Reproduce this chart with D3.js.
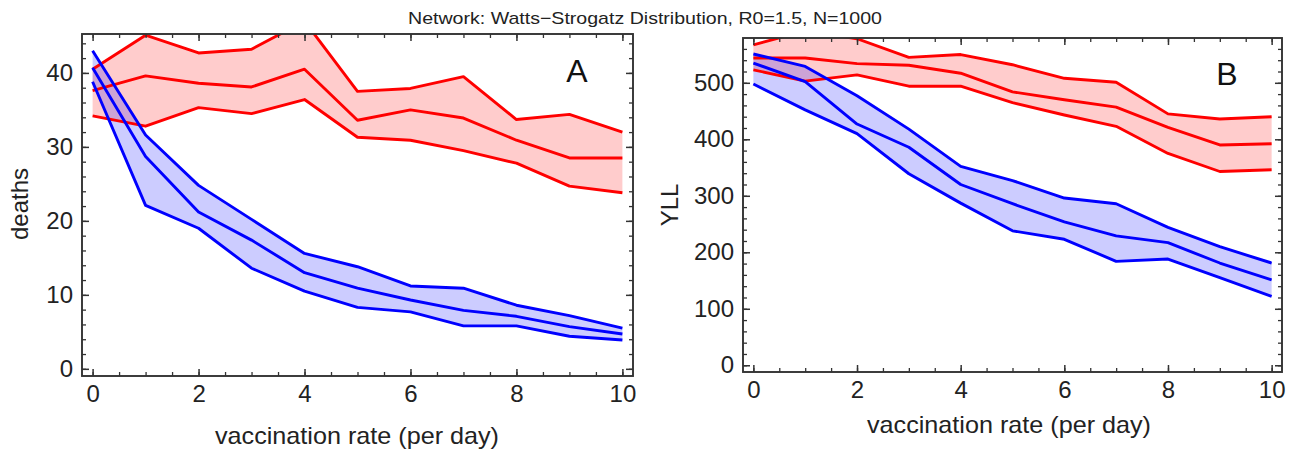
<!DOCTYPE html>
<html>
<head>
<meta charset="utf-8">
<script src="https://cdn.jsdelivr.net/npm/d3@7"></script>
<style>
  body { margin: 0; background: #fff; }
  svg { display: block; font-family: "Liberation Sans", Arial, sans-serif; }
  .tick text { fill: #222; }
</style>
</head>
<body>
<svg id="chart" width="1294" height="451"></svg>
<script>
// vaccination rate (per day)
const rates = [0, 1, 2, 3, 4, 5, 6, 7, 8, 9, 10];

// panel A: deaths
const deathsRedUpper  = [40.5, 45.1, 42.7, 43.2, 47.0, 37.5, 37.9, 39.5, 33.7, 34.4, 32.0];
const deathsRedMid    = [37.6, 39.6, 38.6, 38.1, 40.5, 33.6, 35.0, 33.9, 30.9, 28.5, 28.5];
const deathsRedLower  = [34.2, 32.8, 35.3, 34.5, 36.4, 31.3, 30.9, 29.5, 27.8, 24.7, 23.8];
const deathsBlueUpper = [43.0, 31.6, 24.8, 20.2, 15.6, 13.8, 11.2, 10.9, 8.6, 7.2, 5.5];
const deathsBlueMid   = [40.7, 28.7, 21.2, 17.4, 13.0, 10.9, 9.3, 7.9, 7.1, 5.7, 4.7];
const deathsBlueLower = [38.8, 22.1, 19.0, 13.6, 10.5, 8.3, 7.7, 5.8, 5.8, 4.4, 3.9];

// panel B: YLL
const yllRedUpper  = [567, 592, 578, 545, 550, 532, 508, 501, 445, 436, 440];
const yllRedMid    = [544, 544, 534, 531, 517, 484, 470, 457, 421, 390, 392];
const yllRedLower  = [523, 503, 514, 494, 494, 465, 443, 423, 375, 343, 346];
const yllBlueUpper = [551, 529, 477, 418, 352, 327, 296, 286, 244, 210, 181];
const yllBlueMid   = [535, 502, 427, 386, 320, 286, 254, 229, 217, 181, 151];
const yllBlueLower = [498, 452, 410, 339, 287, 238, 223, 184, 188, 155, 122];

const xTicks = [0, 2, 4, 6, 8, 10];
const deathsTicks = [0, 10, 20, 30, 40];
const yllTicks = [0, 100, 200, 300, 400, 500];

const title = "Network: Watts\u2212Strogatz Distribution, R0=1.5, N=1000";

const svg = d3.select("#chart");

svg.append("text")
    .attr("x", 645)
    .attr("y", 24)
    .attr("text-anchor", "middle")
    .attr("textLength", 474)
    .attr("lengthAdjust", "spacingAndGlyphs")
    .style("font-size", "17px")
    .style("fill", "#222")
    .text(title);

function drawPanel(cfg) {
    const g = svg.append("g");
    const x = d3.scaleLinear().domain([-0.2, 10.2]).range([cfg.left, cfg.right]);
    const y = d3.scaleLinear().domain(cfg.yDomain).range([cfg.bottom, cfg.top]);

    const clipId = "clip-" + cfg.letter;
    g.append("clipPath").attr("id", clipId)
        .append("rect")
        .attr("x", cfg.left).attr("y", cfg.top)
        .attr("width", cfg.right - cfg.left).attr("height", cfg.bottom - cfg.top);

    const plot = g.append("g").attr("clip-path", `url(#${clipId})`);

    const bands = [
        { upper: cfg.red[0], mid: cfg.red[1], lower: cfg.red[2], color: "#ff0000" },
        { upper: cfg.blue[0], mid: cfg.blue[1], lower: cfg.blue[2], color: "#0000ff" }
    ];

    const area = d3.area()
        .x((d, i) => x(rates[i]))
        .y0(d => y(d[1]))
        .y1(d => y(d[0]));

    const line = d3.line()
        .x((d, i) => x(rates[i]))
        .y(d => y(d));

    // fills first, then the lines on top
    bands.forEach(b => {
        plot.append("path")
            .datum(b.upper.map((v, i) => [v, b.lower[i]]))
            .attr("d", area)
            .attr("fill", b.color)
            .attr("fill-opacity", 0.2);
    });
    bands.forEach(b => {
        [b.upper, b.mid, b.lower].forEach(s => {
            plot.append("path")
                .datum(s)
                .attr("d", line)
                .attr("fill", "none")
                .attr("stroke", b.color)
                .attr("stroke-width", 2.9)
                .attr("stroke-linejoin", "round");
        });
    });

    // frame ticks on all four sides, pointing inward
    const minorX = d3.range(0, 10.01, 0.5);
    const minorY = d3.range(0, cfg.yDomain[1], cfg.minorStep);

    const axes = [
        { ax: d3.axisBottom(x), t: `translate(0,${cfg.bottom})`, major: xTicks, minor: minorX, labels: true },
        { ax: d3.axisTop(x), t: `translate(0,${cfg.top})`, major: xTicks, minor: minorX, labels: false },
        { ax: d3.axisLeft(y), t: `translate(${cfg.left},0)`, major: cfg.yTicks, minor: minorY, labels: true },
        { ax: d3.axisRight(y), t: `translate(${cfg.right},0)`, major: cfg.yTicks, minor: minorY, labels: false }
    ];

    axes.forEach(a => {
        const minorG = g.append("g").attr("transform", a.t)
            .call(a.ax.tickValues(a.minor).tickSize(-4).tickSizeOuter(0).tickFormat(""));
        minorG.select(".domain").remove();
        minorG.selectAll("line").attr("stroke", "#333").attr("stroke-width", 1.3);

        const majorG = g.append("g").attr("transform", a.t)
            .call(a.ax.tickValues(a.major).tickSize(-7).tickSizeOuter(0).tickPadding(9)
                .tickFormat(a.labels ? d3.format("d") : ""));
        majorG.select(".domain").remove();
        majorG.selectAll("line").attr("stroke", "#333").attr("stroke-width", 1.5);
        majorG.selectAll("text").style("font-size", "24px").attr("font-family", null);
    });

    g.append("rect")
        .attr("x", cfg.left).attr("y", cfg.top)
        .attr("width", cfg.right - cfg.left).attr("height", cfg.bottom - cfg.top)
        .attr("fill", "none")
        .attr("stroke", "#333")
        .attr("stroke-width", 1.9);

    g.append("text")
        .attr("x", cfg.letterX).attr("y", cfg.letterY)
        .attr("text-anchor", "middle")
        .style("font-size", "32px")
        .style("fill", "#111")
        .text(cfg.letter);

    g.append("text")
        .attr("x", cfg.xLabelX).attr("y", cfg.xLabelY)
        .attr("text-anchor", "middle")
        .attr("textLength", 284)
        .attr("lengthAdjust", "spacingAndGlyphs")
        .style("font-size", "24px")
        .style("fill", "#222")
        .text("vaccination rate (per day)");

    g.append("text")
        .attr("transform", `translate(${cfg.yLabelX},${cfg.yLabelY}) rotate(-90)`)
        .attr("text-anchor", "middle")
        .style("font-size", "24px")
        .style("fill", "#222")
        .text(cfg.yLabel);
}

drawPanel({
    letter: "A",
    left: 82, right: 633, top: 34, bottom: 376,
    yDomain: [-0.97, 45.26], yTicks: deathsTicks, minorStep: 2,
    red: [deathsRedUpper, deathsRedMid, deathsRedLower],
    blue: [deathsBlueUpper, deathsBlueMid, deathsBlueLower],
    letterX: 577, letterY: 82,
    xLabelX: 357, xLabelY: 444,
    yLabel: "deaths", yLabelX: 28, yLabelY: 204
});

drawPanel({
    letter: "B",
    left: 743, right: 1282, top: 38, bottom: 372,
    yDomain: [-11.9, 579.3], yTicks: yllTicks, minorStep: 20,
    red: [yllRedUpper, yllRedMid, yllRedLower],
    blue: [yllBlueUpper, yllBlueMid, yllBlueLower],
    letterX: 1227, letterY: 85,
    xLabelX: 1009, xLabelY: 433,
    yLabel: "YLL", yLabelX: 678, yLabelY: 205
});
</script>
</body>
</html>
